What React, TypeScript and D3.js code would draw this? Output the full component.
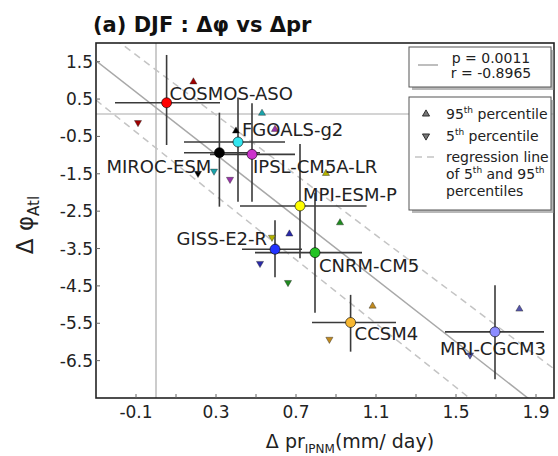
import React, { useEffect, useRef } from 'react';
import * as d3 from 'd3';

// model names and centre values (delta pr, delta phi)
const models = ['COSMOS-ASO', 'FGOALS-g2', 'MIROC-ESM', 'IPSL-CM5A-LR', 'MPI-ESM-P', 'GISS-E2-R', 'CNRM-CM5', 'CCSM4', 'MRI-CGCM3'];
const prMean = [0.053, 0.41, 0.317, 0.48, 0.72, 0.595, 0.795, 0.973, 1.695];
const phiMean = [0.40, -0.65, -0.935, -0.98, -2.36, -3.52, -3.61, -5.48, -5.73];

// error bar extents
const prLow = [-0.205, 0.14, 0.14, 0.27, 0.42, 0.43, 0.495, 0.78, 1.445];
const prHigh = [0.32, 0.645, 0.52, 0.695, 1.053, 0.73, 1.03, 1.2, 1.94];
const phiLow = [-0.73, -2.25, -2.38, -2.25, -3.76, -4.27, -5.22, -6.26, -7.0];
const phiHigh = [1.68, 0.54, 0.135, 0.39, -0.70, -2.74, -2.01, -4.74, -4.48];

// 95th and 5th percentile markers
const pr95 = [0.187, 0.53, 0.40, 0.595, 0.85, 0.667, 0.92, 1.083, 1.817];
const phi95 = [0.96, 0.12, -0.355, -0.31, -1.49, -3.11, -2.81, -5.04, -5.12];
const pr5 = [-0.09, 0.29, 0.21, 0.37, 0.58, 0.52, 0.66, 0.867, 1.57];
const phi5 = [-0.13, -1.43, -1.49, -1.65, -3.2, -3.9, -4.41, -5.93, -6.35];

const dotColors = ['#ff0000', '#33e6f0', '#000000', '#cc33cc', '#ffff00', '#2233ff', '#22c322', '#f7b731', '#8c8cff'];
const triColors = ['#a00000', '#1aa3aa', '#000000', '#9933aa', '#b3b300', '#2a2aa8', '#1f8a1f', '#c08a20', '#5555aa'];

// regression lines: mean, 95th, 5th
const fitSlope = [-4.18, -4.02, -4.27];
const fitIntercept = [0.27, 1.28, -0.81];

const xTickLabels = [-0.1, 0.3, 0.7, 1.1, 1.5, 1.9];
const xMinorTicks = [0.1, 0.5, 0.9, 1.3, 1.7];
const yTickLabels = [1.5, 0.5, -0.5, -1.5, -2.5, -3.5, -4.5, -5.5, -6.5];

// label placement relative to each point: [dx, dy, anchor]
const labelPlace: [number, number, string][] = [
    [3, -3, 'start'], [4, -6, 'start'], [-8, 20, 'end'], [1, 19, 'start'], [3, -5, 'start'],
    [-8, -4, 'end'], [4, 19, 'start'], [4, 17, 'start'], [-2, 23, 'middle']
];

const W = 558, H = 456;
const font = 'DejaVu Sans, sans-serif';

const App = () => {
    const ref = useRef<SVGSVGElement>(null);

    useEffect(() => {
        if (!ref.current) return;
        const svg = d3.select(ref.current);
        svg.selectAll('*').remove();

        const left = 96, right = 554, top = 43, bottom = 398;
        const x = d3.scaleLinear().domain([-0.3, 1.99]).range([left, right]);
        const y = d3.scaleLinear().domain([2.0, -7.5]).range([top, bottom]);

        svg.append('rect').attr('width', W).attr('height', H).attr('fill', '#fff');

        svg.append('defs').append('clipPath').attr('id', 'plot-clip')
            .append('rect').attr('x', left).attr('y', top).attr('width', right - left).attr('height', bottom - top);

        const plot = svg.append('g').attr('clip-path', 'url(#plot-clip)');

        // zero reference lines
        plot.append('line').attr('x1', x(0)).attr('x2', x(0)).attr('y1', top).attr('y2', bottom)
            .attr('stroke', '#aaa').attr('stroke-width', 1.2);
        plot.append('line').attr('x1', left).attr('x2', right).attr('y1', y(0.1)).attr('y2', y(0.1))
            .attr('stroke', '#aaa').attr('stroke-width', 1.2);

        // regression lines
        const xs = x.domain();
        fitSlope.forEach((m, i) => {
            plot.append('line')
                .attr('x1', x(xs[0])).attr('y1', y(fitIntercept[i] + m * xs[0]))
                .attr('x2', x(xs[1])).attr('y2', y(fitIntercept[i] + m * xs[1]))
                .attr('stroke', i === 0 ? '#a8a8a8' : '#c4c4c4')
                .attr('stroke-width', 1.5)
                .attr('stroke-dasharray', i === 0 ? null : '7,5');
        });

        // error bars
        models.forEach((_, i) => {
            plot.append('line').attr('x1', x(prLow[i])).attr('x2', x(prHigh[i]))
                .attr('y1', y(phiMean[i])).attr('y2', y(phiMean[i]))
                .attr('stroke', '#3a3a3a').attr('stroke-width', 1.6);
            plot.append('line').attr('x1', x(prMean[i])).attr('x2', x(prMean[i]))
                .attr('y1', y(phiLow[i])).attr('y2', y(phiHigh[i]))
                .attr('stroke', '#3a3a3a').attr('stroke-width', 1.6);
        });

        // percentile triangles
        const tri = d3.symbol(d3.symbolTriangle, 22);
        models.forEach((_, i) => {
            plot.append('path').attr('d', tri())
                .attr('transform', `translate(${x(pr95[i])},${y(phi95[i])})`)
                .attr('fill', triColors[i]).attr('stroke', '#222').attr('stroke-width', 0.4);
            plot.append('path').attr('d', tri())
                .attr('transform', `translate(${x(pr5[i])},${y(phi5[i])}) rotate(180)`)
                .attr('fill', triColors[i]).attr('stroke', '#222').attr('stroke-width', 0.4);
        });

        // model dots
        models.forEach((_, i) => {
            plot.append('circle').attr('cx', x(prMean[i])).attr('cy', y(phiMean[i])).attr('r', 5)
                .attr('fill', dotColors[i]).attr('stroke', '#000').attr('stroke-width', 0.6);
        });

        // model labels
        models.forEach((name, i) => {
            const [dx, dy, anchor] = labelPlace[i];
            svg.append('text')
                .attr('x', x(prMean[i]) + dx).attr('y', y(phiMean[i]) + dy)
                .attr('text-anchor', anchor)
                .style('font-family', font).style('font-size', '18px').style('fill', '#222')
                .text(name);
        });

        // frame
        svg.append('rect').attr('x', left).attr('y', top).attr('width', right - left).attr('height', bottom - top)
            .attr('fill', 'none').attr('stroke', '#222').attr('stroke-width', 1.6);

        // ticks (inward)
        [...xTickLabels, ...xMinorTicks].forEach(t => {
            svg.append('line').attr('x1', x(t)).attr('x2', x(t)).attr('y1', bottom).attr('y2', bottom - 4)
                .attr('stroke', '#666').attr('stroke-width', 1);
        });
        xTickLabels.forEach(t => {
            svg.append('text').attr('x', x(t)).attr('y', bottom + 20).attr('text-anchor', 'middle')
                .style('font-family', font).style('font-size', '17px').style('fill', '#222')
                .text(d3.format('.1f')(t).replace('−', '-'));
        });
        yTickLabels.forEach(t => {
            svg.append('line').attr('x1', left).attr('x2', left + 4).attr('y1', y(t)).attr('y2', y(t))
                .attr('stroke', '#666').attr('stroke-width', 1);
            svg.append('text').attr('x', left - 3).attr('y', y(t) + 6).attr('text-anchor', 'end')
                .style('font-family', font).style('font-size', '17px').style('fill', '#222')
                .text(d3.format('.1f')(t).replace('−', '-'));
        });

        // title
        svg.append('text').attr('x', 93).attr('y', 32)
            .style('font-family', font).style('font-size', '21px').style('font-weight', 'bold').style('fill', '#111')
            .text('(a) DJF : Δφ vs Δpr');

        // axis labels
        const xl = svg.append('text').attr('x', 350).attr('y', 448).attr('text-anchor', 'middle')
            .style('font-family', font).style('font-size', '19px').style('fill', '#222');
        xl.append('tspan').text('Δ pr');
        xl.append('tspan').attr('dy', 5).style('font-size', '12px').text('IPNM');
        xl.append('tspan').attr('dy', -5).text('(mm/ day)');

        const yl = svg.append('text').attr('transform', 'translate(33,225) rotate(-90)').attr('text-anchor', 'middle')
            .style('font-family', font).style('font-size', '23px').style('fill', '#222');
        yl.append('tspan').text('Δ φ');
        yl.append('tspan').attr('dy', 6).style('font-size', '15px').text('Atl');

        // legend boxes with shadow
        const legendBox = (lx: number, ly: number, lw: number, lh: number) => {
            svg.append('rect').attr('x', lx + 3).attr('y', ly + 3).attr('width', lw).attr('height', lh)
                .attr('fill', '#888').attr('opacity', 0.6);
            svg.append('rect').attr('x', lx).attr('y', ly).attr('width', lw).attr('height', lh)
                .attr('fill', '#fff').attr('stroke', '#555').attr('stroke-width', 1);
        };
        const legText = (tx: number, ty: number, anchor = 'start') => svg.append('text')
            .attr('x', tx).attr('y', ty).attr('text-anchor', anchor)
            .style('font-family', font).style('font-size', '14px').style('fill', '#222');

        legendBox(409, 47, 142, 40);
        svg.append('line').attr('x1', 418).attr('x2', 438).attr('y1', 65).attr('y2', 65)
            .attr('stroke', '#a8a8a8').attr('stroke-width', 1.5);
        legText(491, 63, 'middle').text('p = 0.0011');
        legText(491, 78, 'middle').text('r = -0.8965');

        legendBox(409, 97, 142, 113);
        svg.append('path').attr('d', tri()).attr('transform', 'translate(426,114)')
            .attr('fill', '#777').attr('stroke', '#111').attr('stroke-width', 0.8);
        svg.append('path').attr('d', tri()).attr('transform', 'translate(426,136) rotate(180)')
            .attr('fill', '#777').attr('stroke', '#111').attr('stroke-width', 0.8);
        const sup = (t: d3.Selection<SVGTextElement, unknown, null, undefined>, base: string, s: string, rest: string) => {
            t.append('tspan').text(base);
            t.append('tspan').attr('dy', -6).style('font-size', '9px').text(s);
            t.append('tspan').attr('dy', 6).text(rest);
        };
        sup(legText(446, 119), '95', 'th', ' percentile');
        sup(legText(446, 141), '5', 'th', ' percentile');
        svg.append('line').attr('x1', 415).attr('x2', 437).attr('y1', 157).attr('y2', 157)
            .attr('stroke', '#c4c4c4').attr('stroke-width', 1.5).attr('stroke-dasharray', '7,5');
        legText(446, 162).text('regression line');
        const l2 = legText(446, 179);
        sup(l2, 'of 5', 'th', ' and 95');
        l2.append('tspan').attr('dy', -6).style('font-size', '9px').text('th');
        legText(446, 196).text('percentiles');
    }, []);

    return (
        <svg ref={ref} width={W} height={H}
            style={{ position: 'absolute', left: 0, top: 0, display: 'block' }} />
    );
};

export default App;
